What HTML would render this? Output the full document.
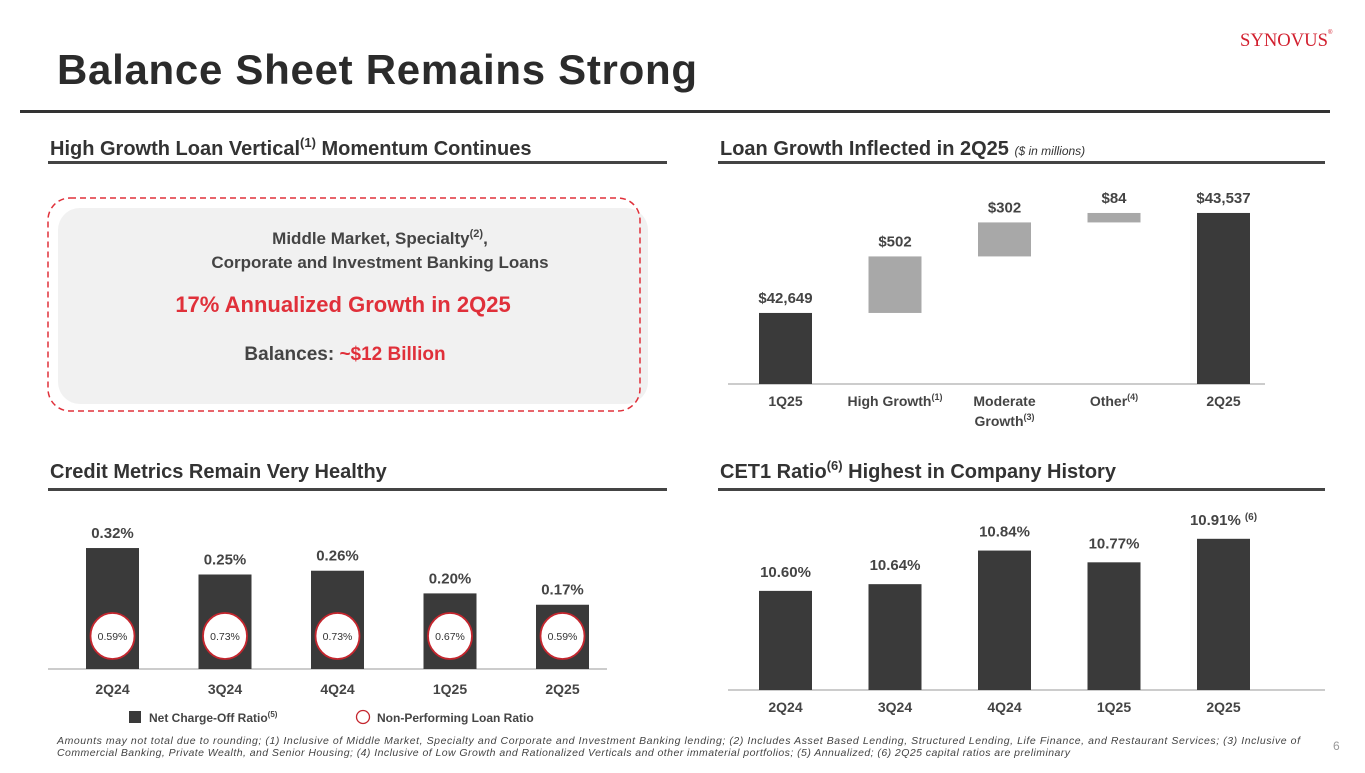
<!DOCTYPE html>
<html><head><meta charset="utf-8">
<style>
body{margin:0;width:1365px;height:768px;overflow:hidden;background:#fff;font-family:"Liberation Sans",sans-serif;}
svg text{font-family:"Liberation Sans",sans-serif;}
</style></head>
<body>
<svg id="page" width="1365" height="768" viewBox="0 0 1365 768">
<text x="1240" y="46" style="font-family:'Liberation Serif',serif" font-size="19" fill="#d2202f" textLength="88" lengthAdjust="spacingAndGlyphs">SYNOVUS</text>
<text x="1328" y="34" font-size="6" fill="#d2202f">®</text>
<text x="57" y="84" font-size="42" font-weight="bold" fill="#2b2b2b" textLength="640">Balance Sheet Remains Strong</text>
<rect x="20" y="110" width="1310" height="3" fill="#333"/>

<text x="50" y="155" font-size="20" font-weight="bold" fill="#333">High Growth Loan Vertical<tspan dy="-8" font-size="13">(1)</tspan><tspan dy="8"> Momentum Continues</tspan></text>
<rect x="48" y="161" width="619" height="3" fill="#444"/>
<text x="720" y="155" font-size="20" font-weight="bold" fill="#333">Loan Growth Inflected in 2Q25 <tspan font-size="12" font-weight="normal" font-style="italic">($ in millions)</tspan></text>
<rect x="718" y="161" width="607" height="3" fill="#444"/>

<text x="50" y="478" font-size="20" font-weight="bold" fill="#333">Credit Metrics Remain Very Healthy</text>
<rect x="48" y="488" width="619" height="3" fill="#444"/>
<text x="720" y="478" font-size="20" font-weight="bold" fill="#333">CET1 Ratio<tspan dy="-8" font-size="13">(6)</tspan><tspan dy="8"> Highest in Company History</tspan></text>
<rect x="718" y="488" width="607" height="3" fill="#444"/>

<g>
<rect x="58" y="208" width="590" height="196" rx="22" fill="#f1f1f1"/>
<rect x="48" y="198" width="592" height="213" rx="22" fill="none" stroke="#e0303a" stroke-width="1.5" stroke-dasharray="6,4"/>
<text x="380" y="244" text-anchor="middle" font-size="17" font-weight="bold" fill="#444">Middle Market, Specialty<tspan dy="-7" font-size="11">(2)</tspan><tspan dy="7">,</tspan></text>
<text x="380" y="268" text-anchor="middle" font-size="17" font-weight="bold" fill="#444">Corporate and Investment Banking Loans</text>
<text x="343" y="312" text-anchor="middle" font-size="22" font-weight="bold" fill="#e0303a">17% Annualized Growth in 2Q25</text>
<text x="345" y="360" text-anchor="middle" font-size="19" font-weight="bold" fill="#444">Balances: <tspan fill="#e0303a">~$12 Billion</tspan></text>
</g>

<g id="waterfall"></g>
<g id="credit"></g>
<g id="cet1"></g>

<text x="57" y="744" font-size="10.5" font-style="italic" fill="#444" textLength="1243">Amounts may not total due to rounding; (1) Inclusive of Middle Market, Specialty and Corporate and Investment Banking lending; (2) Includes Asset Based Lending, Structured Lending, Life Finance, and Restaurant Services; (3) Inclusive of</text>
<text x="57" y="756" font-size="10.5" font-style="italic" fill="#444" textLength="1013">Commercial Banking, Private Wealth, and Senior Housing; (4) Inclusive of Low Growth and Rationalized Verticals and other immaterial portfolios; (5) Annualized; (6) 2Q25 capital ratios are preliminary</text>
<text x="1333" y="750" font-size="12" fill="#999">6</text>
</svg>
<script>
const NS='http://www.w3.org/2000/svg';
const wfCategories=['1Q25','High Growth','Moderate','Other','2Q25'];
const wfValues=[42649,502,302,84,43537];
const wfLabels=['$42,649','$502','$302','$84','$43,537'];
const creditCategories=['2Q24','3Q24','4Q24','1Q25','2Q25'];
const ncoValues=[0.32,0.25,0.26,0.20,0.17];
const npaValues=[0.59,0.73,0.73,0.67,0.59];
const cetCategories=['2Q24','3Q24','4Q24','1Q25','2Q25'];
const cetValues=[10.60,10.64,10.84,10.77,10.91];

function mk(parent,tag,attrs,txt){const e=document.createElementNS(NS,tag);for(const k in attrs)e.setAttribute(k,attrs[k]);if(txt!==undefined)e.textContent=txt;parent.appendChild(e);return e;}

// Waterfall
(function(){
const g=document.getElementById('waterfall');
const base=384, yMin=42018, k=0.1126;
const y=v=>base-(v-yMin)*k;
const xC=i=>785.5+i*109.5;
const ax=mk(g,'line',{x1:728,x2:1265,y1:base,y2:base,stroke:'#bbb','stroke-width':1.5});


let run=wfValues[0];
wfValues.forEach((v,i)=>{
 let top,bot,fill;
 if(i===0||i===wfValues.length-1){top=y(v);bot=base;fill='#3a3a3a';}
 else{bot=y(run);run+=v;top=y(run);fill='#a8a8a8';}
 const r=mk(g,'rect',{x:xC(i)-26.5,y:top,width:53,height:bot-top,fill:fill});
 
 
 const t=mk(g,'text',{x:xC(i),y:top-10,'text-anchor':'middle','font-size':15,'font-weight':'bold',fill:'#444'},wfLabels[i]);
 
 
});
const sups=['','(1)','','(4)',''];
wfCategories.forEach((c,i)=>{
 const t=mk(g,'text',{x:xC(i),y:406,'text-anchor':'middle','font-size':14,'font-weight':'bold',fill:'#444'},c);
 if(sups[i]){mk(t,'tspan',{dy:-6,'font-size':9},sups[i]);}
 
 
});
const t2=mk(g,'text',{x:xC(2),y:426,'text-anchor':'middle','font-size':14,'font-weight':'bold',fill:'#444'},'Growth');
mk(t2,'tspan',{dy:-6,'font-size':9},'(3)');


})();

// Credit
(function(){
const g=document.getElementById('credit');
const base=669,k=378;
const xC=i=>112.5+i*112.5;
const ax=mk(g,'line',{x1:48,x2:607,y1:base,y2:base,stroke:'#bbb','stroke-width':1.5});


ncoValues.forEach((v,i)=>{
 const top=base-v*k;
 const r=mk(g,'rect',{x:xC(i)-26.5,y:top,width:53,height:v*k,fill:'#3a3a3a'});
 
 
 const t=mk(g,'text',{x:xC(i),y:top-10,'text-anchor':'middle','font-size':15,'font-weight':'bold',fill:'#444'},v.toFixed(2)+'%');
 
 
 const c=mk(g,'ellipse',{cx:xC(i),cy:636,rx:22,ry:23,fill:'#fff',stroke:'#c4262e','stroke-width':1.8});
 
 
 const t2=mk(g,'text',{x:xC(i),y:640,'text-anchor':'middle','font-size':10.5,fill:'#333'},npaValues[i].toFixed(2)+'%');
 
 
 const l=mk(g,'text',{x:xC(i),y:694,'text-anchor':'middle','font-size':14,'font-weight':'bold',fill:'#444'},creditCategories[i]);
 
 
});
const s=mk(g,'rect',{x:129,y:711,width:12,height:12,fill:'#3a3a3a'});


const lt=mk(g,'text',{x:149,y:722,'font-size':12,'font-weight':'bold',fill:'#444'},'Net Charge-Off Ratio');
mk(lt,'tspan',{dy:-5,'font-size':8},'(5)');


const lc=mk(g,'circle',{cx:363,cy:717,r:6.5,fill:'#fff',stroke:'#c4262e','stroke-width':1.3});


const lt2=mk(g,'text',{x:377,y:722,'font-size':12,'font-weight':'bold',fill:'#444'},'Non-Performing Loan Ratio');


})();

// CET1
(function(){
const g=document.getElementById('cet1');
const base=690,yMin=10.01,k=168;
const xC=i=>785.5+i*109.5;
const ax=mk(g,'line',{x1:728,x2:1325,y1:base,y2:base,stroke:'#bbb','stroke-width':1.5});


cetValues.forEach((v,i)=>{
 const h=(v-yMin)*k, top=base-h;
 const r=mk(g,'rect',{x:xC(i)-26.5,y:top,width:53,height:h,fill:'#3a3a3a'});
 
 
 const t=mk(g,'text',{x:xC(i),y:top-14,'text-anchor':'middle','font-size':15,'font-weight':'bold',fill:'#444'},v.toFixed(2)+'%');
 if(i===cetValues.length-1){mk(t,'tspan',{dx:4,dy:-5,'font-size':10},'(6)');}
 
 
 const l=mk(g,'text',{x:xC(i),y:712,'text-anchor':'middle','font-size':14,'font-weight':'bold',fill:'#444'},cetCategories[i]);
 
 
});
})();
</script>
</body></html>
